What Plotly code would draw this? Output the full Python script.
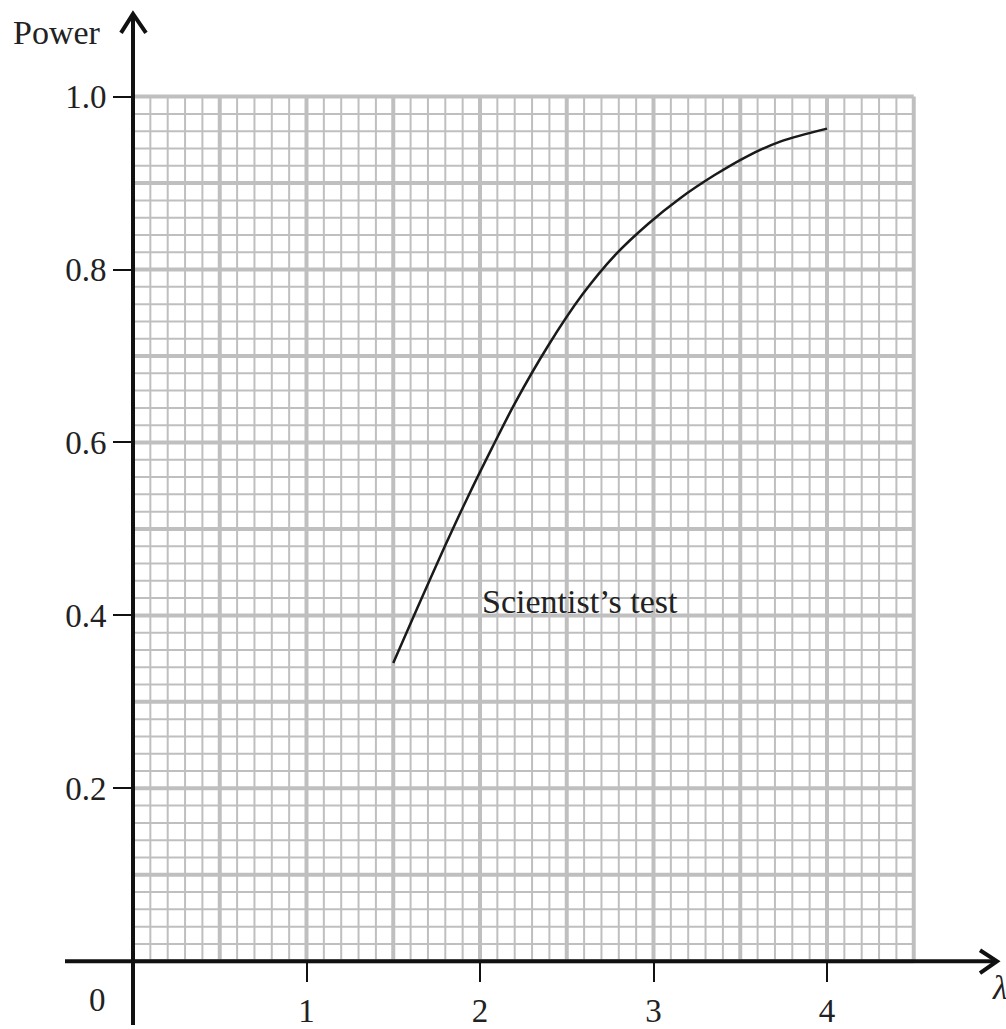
import numpy as np
import plotly.graph_objects as go

# ---- data ----
lam = [1.5, 1.64, 1.80, 1.93, 2.07, 2.20, 2.39, 2.59, 2.78, 2.97, 3.15, 3.35, 3.54, 3.73, 4.0]
power = [0.345, 0.409, 0.481, 0.537, 0.594, 0.645, 0.711, 0.771, 0.817, 0.853, 0.882, 0.909, 0.931, 0.948, 0.963]
x_tick_vals = [1, 2, 3, 4]
x_tick_text = ["1", "2", "3", "4"]
y_tick_vals = [0.2, 0.4, 0.6, 0.8, 1.0]
y_tick_text = ["0.2", "0.4", "0.6", "0.8", "1.0"]
curve_label = "Scientist\u2019s test"

# ---- layout geometry ----
W, H = 1006, 1029
X0PX, SX = 133.0, 173.5   # pixel of x=0, pixels per unit
Y0PX, SY = 965.0, 868.0   # pixel of y=0, pixels per unit
xr = [-X0PX / SX, (W - X0PX) / SX]
yr = [-(H - Y0PX) / SY, Y0PX / SY]


def dx(px):
    return (px - X0PX) / SX


def dy(py):
    return (Y0PX - py) / SY


GRID_X_MAX, GRID_Y_MAX = 4.5, 1.0
grid_col = "#bfbfbf"
serif = "Liberation Serif, Times New Roman, serif"
txt_col = "#222222"

fig = go.Figure()

# grid (minor then major)
minor_x, minor_y, major_x, major_y = [], [], [], []
for i in range(0, 46):
    xv = i * 0.1
    tx, ty = (major_x, major_y) if i % 5 == 0 else (minor_x, minor_y)
    tx += [xv, xv, None]
    ty += [0, GRID_Y_MAX, None]
for j in range(0, 51):
    yv = j * 0.02
    tx, ty = (major_x, major_y) if j % 5 == 0 else (minor_x, minor_y)
    tx += [0, GRID_X_MAX, None]
    ty += [yv, yv, None]

fig.add_trace(go.Scatter(x=minor_x, y=minor_y, mode="lines",
                         line=dict(color=grid_col, width=2),
                         hoverinfo="skip", showlegend=False))
fig.add_trace(go.Scatter(x=major_x, y=major_y, mode="lines",
                         line=dict(color=grid_col, width=4),
                         hoverinfo="skip", showlegend=False))

# curve
fig.add_trace(go.Scatter(x=lam, y=power, mode="lines",
                         line=dict(color="#1a1a1a", width=2.5, shape="spline", smoothing=0.9),
                         showlegend=False, name=curve_label))

# axis lines with chevron arrows
axis_col = "#111111"
shapes = [
    dict(type="line", x0=dx(65), x1=dx(996), y0=0, y1=0,
         line=dict(color=axis_col, width=4)),
    dict(type="line", x0=0, x1=0, y0=yr[0], y1=dy(15),
         line=dict(color=axis_col, width=4)),
    dict(type="path",
         path=f"M {dx(980)},{dy(954)} L {dx(997)},{dy(965)} L {dx(980)},{dy(977)}",
         line=dict(color=axis_col, width=4)),
    dict(type="path",
         path=f"M {dx(121)},{dy(33)} L {dx(133)},{dy(14)} L {dx(146)},{dy(33)}",
         line=dict(color=axis_col, width=4)),
]
fig.update_layout(shapes=shapes)

annotations = [
    dict(x=dx(57), y=dy(33), text="Power", showarrow=False,
         font=dict(family=serif, size=34, color=txt_col)),
    dict(x=dx(97), y=dy(1004), text="0", showarrow=False,
         font=dict(family=serif, size=33, color=txt_col)),
    dict(x=dx(990), y=dy(992), text="<i>\u03bb</i>", showarrow=False, xanchor="left",
         font=dict(family=serif, size=33, color=txt_col)),
    dict(x=2.0, y=0.416, text=curve_label, showarrow=False, xanchor="left",
         font=dict(family=serif, size=34, color=txt_col)),
]
fig.update_layout(annotations=annotations)

fig.update_layout(
    width=W, height=H,
    margin=dict(l=0, r=0, t=0, b=0),
    paper_bgcolor="white", plot_bgcolor="white",
    xaxis=dict(range=xr, showgrid=False, zeroline=False, showline=False,
               anchor="free", position=(0 - yr[0]) / (yr[1] - yr[0]),
               tickmode="array", tickvals=x_tick_vals, ticktext=x_tick_text,
               ticks="outside", ticklen=20, tickwidth=2, tickcolor=axis_col,
               tickfont=dict(family=serif, size=33, color=txt_col), fixedrange=True),
    yaxis=dict(range=yr, showgrid=False, zeroline=False, showline=False,
               anchor="free", position=(0 - xr[0]) / (xr[1] - xr[0]),
               tickmode="array", tickvals=y_tick_vals, ticktext=y_tick_text,
               ticks="outside", ticklen=20, tickwidth=2, tickcolor=axis_col,
               tickfont=dict(family=serif, size=33, color=txt_col), fixedrange=True),
)

fig.write_html(
    "out.html",
    config={"displayModeBar": False},
    post_script="document.body.style.margin='0';document.body.style.overflow='hidden';",
)
